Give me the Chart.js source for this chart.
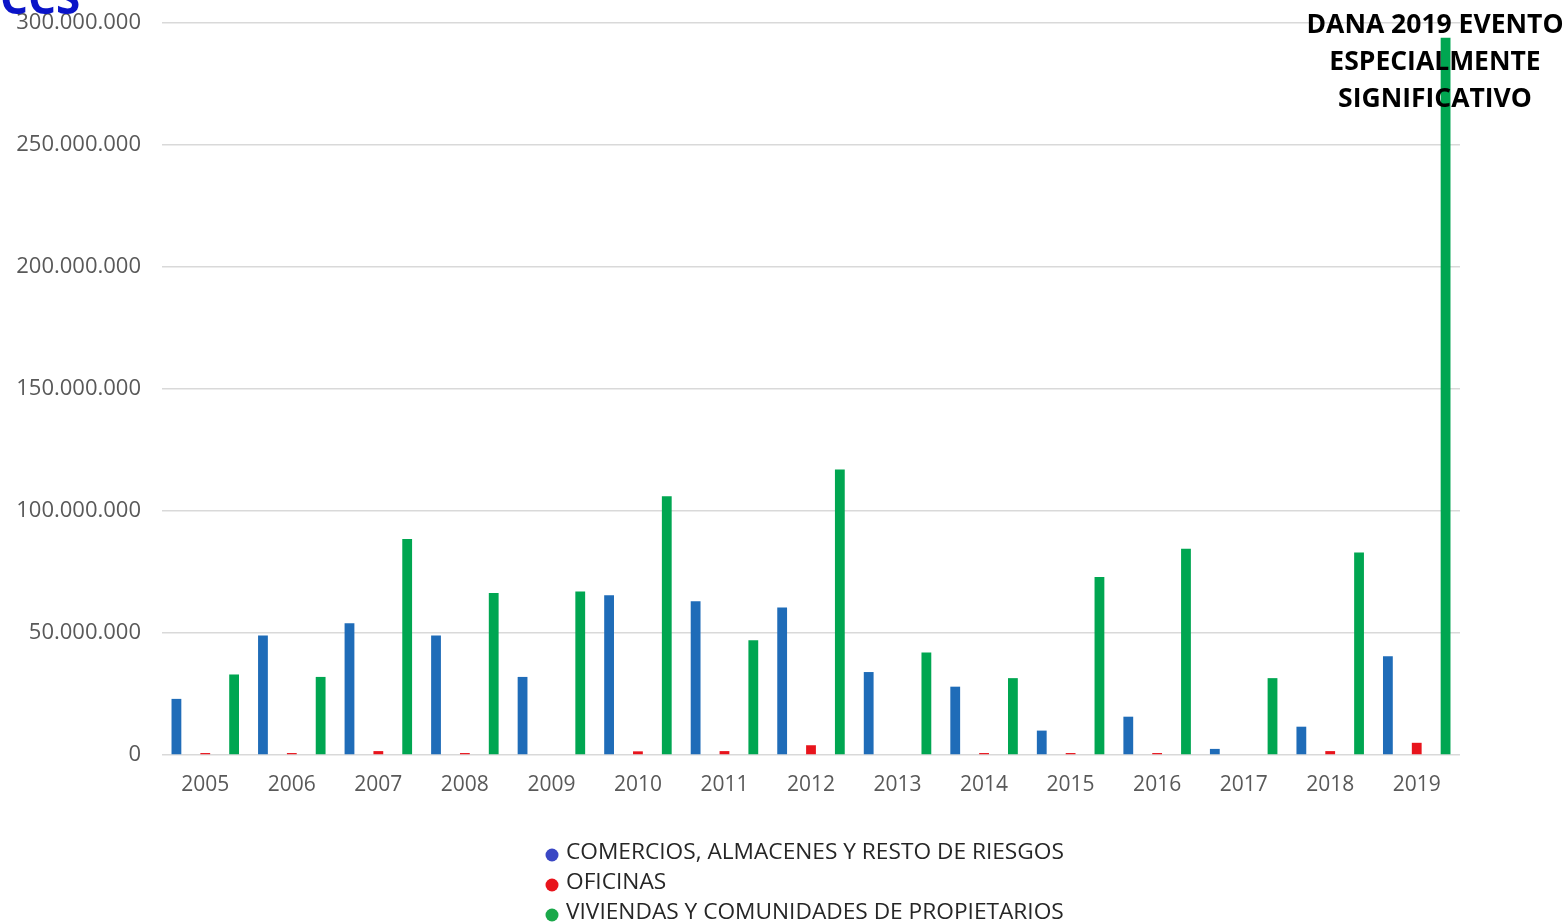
<!DOCTYPE html>
<html>
<head>
<meta charset="utf-8">
<script src="https://cdn.jsdelivr.net/npm/chart.js@4.4.1/dist/chart.umd.min.js"></script>
<style>
  html, body { margin: 0; padding: 0; background: #fff; }
  #wrap { position: relative; width: 1567px; height: 924px; overflow: hidden; }
  #c { position: absolute; left: 0; top: 0; }
  #ccs { position: absolute; left: 0; top: -33px; font: bold 44px "Open Sans", sans-serif; color: #0a14c8; z-index: 2; }
</style>
</head>
<body>
<div id="wrap">
  <div id="ccs">CCS</div>
  <canvas id="c" width="1567" height="924"></canvas>
</div>
<script>
const years = ['2005','2006','2007','2008','2009','2010','2011','2012','2013','2014','2015','2016','2017','2018','2019'];
const comercios = [23000000, 49000000, 54000000, 49000000, 32000000, 65500000, 63000000, 60500000, 34000000, 28000000, 10000000, 15700000, 2500000, 11600000, 40500000];
const oficinas  = [800000, 800000, 1600000, 800000, 0, 1500000, 1600000, 4000000, 0, 800000, 800000, 800000, 0, 1600000, 5000000];
const viviendas = [33000000, 32000000, 88500000, 66400000, 67000000, 106000000, 47000000, 117000000, 42000000, 31500000, 73000000, 84500000, 31500000, 83000000, 294000000];
const seriesNames = ['COMERCIOS, ALMACENES Y RESTO DE RIESGOS', 'OFICINAS', 'VIVIENDAS Y COMUNIDADES DE PROPIETARIOS'];
const yTicks = [0, 50000000, 100000000, 150000000, 200000000, 250000000, 300000000];
const annotationLines = ['DANA 2019 EVENTO', 'ESPECIALMENTE', 'SIGNIFICATIVO'];

const barColors = ['#1f6cb8', '#e8141c', '#00a651'];
const legendDotColors = ['#3a47c4', '#e8141c', '#1aa84a'];

const fmt = v => v.toLocaleString('de-DE');

const overlay = {
  id: 'overlay',
  afterDraw(chart) {
    const ctx = chart.ctx;
    ctx.save();
    ctx.font = '22.7px "Open Sans", sans-serif';
    ctx.textBaseline = 'middle';
    ctx.textAlign = 'left';
    const lx = 552, ly = [853, 883, 913];
    chart.data.datasets.forEach((ds, i) => {
      ctx.fillStyle = legendDotColors[i];
      ctx.beginPath(); ctx.arc(lx, ly[i] + 2, 6.5, 0, Math.PI * 2); ctx.fill();
      ctx.fillStyle = '#262626';
      ctx.fillText(ds.label, 566, ly[i]);
    });
    ctx.font = 'bold 26.5px "Open Sans", sans-serif';
    ctx.fillStyle = '#000';
    ctx.textAlign = 'center';
    const cx = 1435;
    annotationLines.forEach((t, i) => ctx.fillText(t, cx, 25 + i * 37));
    ctx.restore();
  }
};

new Chart(document.getElementById('c'), {
  type: 'bar',
  data: {
    labels: years,
    datasets: [
      { label: seriesNames[0], data: comercios, backgroundColor: barColors[0] },
      { label: seriesNames[1], data: oficinas, backgroundColor: barColors[1] },
      { label: seriesNames[2], data: viviendas, backgroundColor: barColors[2] }
    ]
  },
  options: {
    responsive: false,
    animation: false,
    devicePixelRatio: 1,
    layout: { padding: { top: 23, right: 107, left: 0, bottom: 0 } },
    datasets: { bar: { categoryPercentage: 1.0, barPercentage: 0.34 } },
    plugins: { legend: { display: false }, tooltip: { enabled: false } },
    scales: {
      x: {
        grid: { display: false, drawTicks: false },
        border: { display: false },
        ticks: { color: '#595959', font: { family: 'Open Sans', size: 21 }, padding: 17 },
        afterFit(s) { s.height = 924 - 755; }
      },
      y: {
        min: 0, max: 300000000,
        afterBuildTicks(s) { s.ticks = yTicks.map(v => ({ value: v })); },
        grid: { color: '#d9d9d9', lineWidth: 1.5, drawTicks: false },
        border: { display: false },
        ticks: { color: '#595959', font: { family: 'Open Sans', size: 22 }, padding: 21, callback: v => fmt(v) },
        afterFit(s) { s.width = 162; s.paddingTop = 0; s.paddingBottom = 0; }
      }
    }
  },
  plugins: [overlay]
});
</script>
</body>
</html>
